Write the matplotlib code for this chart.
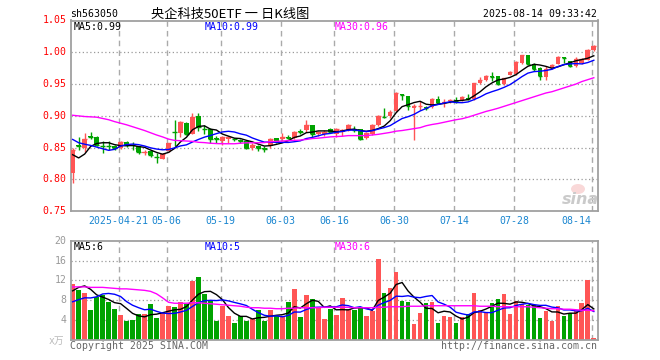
import numpy as np
import pandas as pd
import matplotlib
matplotlib.use('Agg')
import matplotlib.pyplot as plt
from matplotlib.patches import Ellipse

# ---------------- data ----------------
opens = [0.811, 0.855, 0.850, 0.868, 0.867, 0.853, 0.853, 0.852, 0.849, 0.859,
         0.855, 0.852, 0.842, 0.845, 0.836, 0.833, 0.845, 0.875, 0.873, 0.889,
         0.872, 0.900, 0.880, 0.879, 0.865, 0.860, 0.863, 0.864, 0.862, 0.860,
         0.849, 0.852, 0.849, 0.852, 0.865, 0.864, 0.867, 0.866, 0.876, 0.878,
         0.885, 0.871, 0.871, 0.880, 0.872, 0.875, 0.878, 0.879, 0.879, 0.865,
         0.871, 0.886, 0.899, 0.900, 0.907, 0.934, 0.931, 0.913, 0.915, 0.914,
         0.914, 0.927, 0.920, 0.923, 0.925, 0.925, 0.928, 0.926, 0.951, 0.957,
         0.962, 0.9625, 0.950, 0.965, 0.966, 0.983, 0.995, 0.982, 0.976, 0.9615,
         0.975, 0.982, 0.992, 0.986, 0.978, 0.983, 0.9885, 1.003]
closes = [0.846, 0.852, 0.864, 0.867, 0.854, 0.852, 0.852, 0.849, 0.859, 0.854,
          0.854, 0.843, 0.843, 0.838, 0.835, 0.840, 0.857, 0.874, 0.890, 0.871,
          0.899, 0.883, 0.879, 0.864, 0.864, 0.867, 0.867, 0.863, 0.861, 0.850,
          0.855, 0.849, 0.848, 0.864, 0.860, 0.867, 0.866, 0.874, 0.875, 0.886,
          0.872, 0.875, 0.874, 0.875, 0.879, 0.878, 0.886, 0.878, 0.864, 0.873,
          0.885, 0.900, 0.898, 0.906, 0.936, 0.933, 0.915, 0.915, 0.916, 0.913,
          0.927, 0.920, 0.922, 0.9255, 0.924, 0.930, 0.927, 0.951, 0.957, 0.9635,
          0.961, 0.950, 0.959, 0.969, 0.985, 0.995, 0.982, 0.9745, 0.9635, 0.9745,
          0.980, 0.993, 0.991, 0.979, 0.990, 0.990, 1.0036, 1.010]
highs = [0.850, 0.867, 0.873, 0.874, 0.868, 0.860, 0.861, 0.854, 0.860, 0.860,
         0.859, 0.853, 0.847, 0.846, 0.842, 0.841, 0.858, 0.893, 0.892, 0.890,
         0.904, 0.904, 0.886, 0.881, 0.868, 0.868, 0.868, 0.866, 0.864, 0.861,
         0.857, 0.854, 0.852, 0.866, 0.866, 0.873, 0.870, 0.876, 0.880, 0.894,
         0.886, 0.877, 0.878, 0.881, 0.881, 0.880, 0.888, 0.884, 0.880, 0.874,
         0.887, 0.902, 0.912, 0.910, 0.937, 0.935, 0.932, 0.918, 0.923, 0.916,
         0.928, 0.932, 0.926, 0.927, 0.929, 0.931, 0.934, 0.952, 0.961, 0.965,
         0.969, 0.963, 0.960, 0.971, 0.986, 0.996, 0.996, 0.983, 0.977, 0.978,
         0.981, 0.994, 0.992, 0.987, 0.993, 0.991, 1.005, 1.012]
lows = [0.795, 0.847, 0.843, 0.863, 0.853, 0.842, 0.847, 0.846, 0.848, 0.851,
        0.847, 0.840, 0.838, 0.835, 0.826, 0.832, 0.844, 0.852, 0.867, 0.870,
        0.871, 0.877, 0.872, 0.857, 0.858, 0.854, 0.857, 0.860, 0.858, 0.848,
        0.847, 0.845, 0.844, 0.850, 0.858, 0.860, 0.864, 0.863, 0.872, 0.875,
        0.867, 0.869, 0.868, 0.874, 0.867, 0.869, 0.876, 0.874, 0.862, 0.863,
        0.870, 0.884, 0.897, 0.897, 0.906, 0.925, 0.910, 0.862, 0.910, 0.910,
        0.912, 0.918, 0.914, 0.921, 0.921, 0.923, 0.925, 0.925, 0.950, 0.955,
        0.955, 0.948, 0.949, 0.964, 0.965, 0.982, 0.980, 0.970, 0.956, 0.956,
        0.974, 0.981, 0.983, 0.977, 0.977, 0.982, 0.988, 1.002]
volumes = [11.3, 10.1, 9.4, 6.0, 8.7, 9.0, 7.7, 6.2, 5.0, 3.9,
           4.0, 5.2, 5.2, 7.2, 4.4, 5.4, 6.8, 6.6, 7.7, 7.2,
           11.9, 12.7, 9.2, 8.0, 3.9, 6.8, 4.8, 3.5, 4.8, 3.9,
           4.2, 6.0, 3.9, 6.0, 4.8, 4.8, 7.7, 10.3, 4.6, 9.1,
           8.3, 6.6, 4.2, 6.2, 5.1, 8.5, 6.3, 6.1, 6.6, 4.9,
           5.9, 16.3, 9.5, 10.5, 13.7, 7.9, 7.7, 3.3, 5.5, 7.5,
           7.7, 3.4, 4.9, 4.7, 3.4, 4.7, 5.2, 9.5, 6.1, 5.7,
           7.5, 8.3, 9.3, 5.3, 7.9, 7.2, 7.0, 7.0, 4.5, 5.9,
           3.9, 6.9, 4.9, 5.4, 5.9, 7.5, 12.0, 0.5]
# estimated sessions just before the visible window (only for the short MAs)
prior_closes = [0.904, 0.887, 0.886, 0.880, 0.878, 0.8775, 0.8335, 0.807, 0.831]
prior_volumes = [5.8, 5.7, 6.3, 6.4, 3.3, 6.6, 7.9, 9.5, 14.2]
# 30-day averages
ma30_price = [0.901, 0.900, 0.899, 0.8985, 0.898, 0.896, 0.894, 0.891, 0.8885, 0.886,
              0.883, 0.880, 0.877, 0.8735, 0.870, 0.867, 0.8635, 0.8615, 0.861, 0.8605,
              0.860, 0.8585, 0.858, 0.857, 0.8565, 0.8562, 0.8562, 0.8562, 0.857, 0.8577,
              0.8577, 0.8578, 0.858, 0.8595, 0.860, 0.8605, 0.861, 0.8615, 0.862, 0.863,
              0.8644, 0.865, 0.866, 0.867, 0.8675, 0.868, 0.869, 0.869, 0.869, 0.869,
              0.870, 0.871, 0.8725, 0.874, 0.876, 0.877, 0.8785, 0.880, 0.8815, 0.8845,
              0.8865, 0.888, 0.890, 0.892, 0.894, 0.8955, 0.898, 0.901, 0.904, 0.907,
              0.9094, 0.912, 0.915, 0.918, 0.921, 0.924, 0.927, 0.930, 0.933, 0.936,
              0.938, 0.941, 0.944, 0.947, 0.950, 0.954, 0.957, 0.960]
ma30_volume = [10.7, 10.7, 10.7, 10.6, 10.6, 10.6, 10.5, 10.4, 10.3, 10.3,
               10.2, 10.1, 10.0, 9.8, 9.3, 8.5, 7.6, 7.4, 7.4, 7.4,
               7.5, 7.5, 7.4, 7.3, 7.2, 7.1, 7.0, 6.9, 6.8, 6.6,
               6.5, 6.5, 6.4, 6.4, 6.3, 6.3, 6.4, 6.4, 6.5, 6.5,
               6.5, 6.5, 6.6, 6.6, 6.6, 6.6, 6.6, 6.5, 6.5, 6.5,
               6.5, 6.6, 6.6, 6.7, 6.7, 6.7, 6.8, 6.8, 6.8, 6.9,
               6.9, 6.9, 6.9, 6.9, 6.9, 6.9, 6.9, 6.9, 6.8, 6.8,
               6.8, 6.7, 6.7, 6.7, 6.7, 6.7, 6.7, 6.6, 6.5, 6.4,
               6.3, 6.3, 6.2, 6.2, 6.1, 6.0, 6.0, 5.9]
tick_positions = [8, 16, 25, 35, 44, 54, 64, 74, 87]
tick_labels = ['2025-04-21', '05-06', '05-19', '06-03', '06-16', '06-30', '07-14', '07-28', '08-14']
price_ticks = [0.75, 0.80, 0.85, 0.90, 0.95, 1.00, 1.05]
volume_ticks = [4, 8, 12, 16, 20]
ma_labels_price = ['MA5:0.99', 'MA10:0.99', 'MA30:0.96']
ma_labels_volume = ['MA5:6', 'MA10:5', 'MA30:6']

# ---------------- styling ----------------
W, H = 660, 360
RED = '#ff5555'
GREEN = '#00a300'
FRAME = '#a0a0a0'
GRID = '#9a9a9a'
MONO = 'DejaVu Sans Mono'
plt.rcParams['font.family'] = ['DejaVu Sans Mono', 'Noto Sans CJK SC']

fig = plt.figure(figsize=(W / 100, H / 100), dpi=100, facecolor='white')

def fx(x):
    return x / W

def fy(y):
    return 1 - y / H

L, R = 70.7, 597.7
ax = fig.add_axes([fx(L), fy(211.3), (R - L) / W, (211.3 - 20.5) / H])
axv = fig.add_axes([fx(L), fy(340.0), (R - L) / W, (340.0 - 240.7) / H])

n = len(closes)
x = np.arange(n)
o = np.array(opens); c = np.array(closes); hi = np.array(highs); lo = np.array(lows)
vol = np.array(volumes)
up = c >= o
cols = np.where(up, RED, GREEN)

ma5 = pd.Series(prior_closes + closes).rolling(5).mean().values[len(prior_closes):]
ma10 = pd.Series(prior_closes + closes).rolling(10).mean().values[len(prior_closes):]
vma5 = pd.Series(prior_volumes + volumes).rolling(5).mean().values[len(prior_volumes):]
vma10 = pd.Series(prior_volumes + volumes).rolling(10).mean().values[len(prior_volumes):]

xlim = (-0.33, 87.65)
bw = 0.78

for a, ylim, yt in ((ax, (0.75, 1.05), price_ticks[1:-1]), (axv, (0, 20), volume_ticks[:-1])):
    a.set_xlim(*xlim)
    a.set_ylim(*ylim)
    a.set_xticks([]); a.set_yticks([])
    for s in a.spines.values():
        s.set_color(FRAME); s.set_linewidth(1.3)
    for t in yt:
        a.axhline(t, color=GRID, lw=0.9, ls=(0, (1, 2)), zorder=0)
    for p in tick_positions:
        a.axvline(p - 0.3, color='#aaaaaa', lw=1.0, ls=(0, (4, 3)), zorder=0)

# watermark (behind the marks)
fig.add_artist(Ellipse((578 / 100, (H - 189) / 100), 0.14, 0.10, transform=fig.dpi_scale_trans,
                       facecolor='#f7c8c8', edgecolor='none', alpha=0.7, zorder=0.5))
fig.text(fx(580), fy(199), 'sina', color='#cacaca', ha='center', va='center', fontsize=11.5,
         fontweight='bold', fontstyle='italic', family='DejaVu Sans', zorder=0.6)

# candles
ax.vlines(x, lo, hi, colors=cols, lw=1.0, zorder=2)
body_lo = np.minimum(o, c); body_h = np.abs(c - o)
ax.bar(x, body_h, bw, bottom=body_lo, color=cols, lw=0, zorder=3)
ax.hlines(c, x - bw / 2, x + bw / 2, colors=cols, lw=1.0, zorder=3)
ax.plot(x, ma5, color='black', lw=1.0, zorder=4)
ax.plot(x, ma10, color='#0000ff', lw=1.0, zorder=4)
ax.plot(x, ma30_price, color='#ff00ff', lw=1.0, zorder=4)
ax.patch.set_alpha(0)
fig.patch.set_facecolor('white')

# volume
axv.bar(x, vol, bw, color=cols, lw=0, zorder=2)
axv.plot(x, vma5, color='black', lw=1.0, zorder=4)
axv.plot(x, vma10, color='#0000ff', lw=1.0, zorder=4)
axv.plot(x, ma30_volume, color='#ff00ff', lw=1.0, zorder=4)

FS = 7.1
# price axis labels
for t in price_ticks:
    ypx = 211.3 - (t - 0.75) / 0.30 * (211.3 - 20.5)
    fig.text(fx(66.5), fy(ypx), f'{t:.2f}', color='red', ha='right', va='center',
             fontsize=FS, family=MONO)
for t in volume_ticks:
    ypx = 340.0 - t / 20 * (340.0 - 240.7)
    fig.text(fx(66.5), fy(ypx), f'{t}', color='#999999', ha='right', va='center',
             fontsize=FS, family=MONO)
fig.text(fx(64), fy(341), 'x万', color='#bbbbbb', ha='right', va='center',
         fontsize=7, family=['DejaVu Sans Mono', 'Noto Sans CJK SC'])

# date labels
for p, lab in zip(tick_positions, tick_labels):
    xpx = L + (p - 0.3 - xlim[0]) / (xlim[1] - xlim[0]) * (R - L)
    ha = 'right' if p == tick_positions[-1] else 'center'
    if ha == 'right':
        xpx -= 1
    fig.text(fx(xpx), fy(221.5), lab, color='#1a86d0', ha=ha, va='center',
             fontsize=FS, family=MONO)

# MA legends
for lab, xp, colr in zip(ma_labels_price, (74, 205, 335), ('black', '#0000ff', '#ff00ff')):
    fig.text(fx(xp), fy(27.5), lab, color=colr, ha='left', va='center', fontsize=FS, family=MONO)
for lab, xp, colr in zip(ma_labels_volume, (74, 205, 335), ('black', '#0000ff', '#ff00ff')):
    fig.text(fx(xp), fy(246.5), lab, color=colr, ha='left', va='center', fontsize=FS, family=MONO)

# header
fig.text(fx(70), fy(14), 'sh563050', color='black', ha='left', va='center', fontsize=FS, family=MONO)
fig.text(fx(230), fy(14.5), '央企科技50ETF 一 日K线图', color='black', ha='center', va='center',
         fontsize=9.5, family=['Noto Sans CJK SC', 'DejaVu Sans'])
fig.text(fx(597), fy(14), '2025-08-14 09:33:42', color='black', ha='right', va='center',
         fontsize=FS, family=MONO)

# footer
fig.text(fx(70), fy(346), 'Copyright 2025 SINA.COM', color='#666666', ha='left', va='center',
         fontsize=FS, family=MONO)
fig.text(fx(597), fy(346), 'http://finance.sina.com.cn', color='#666666', ha='right', va='center',
         fontsize=FS, family=MONO)

fig.savefig('out.png', dpi=100, facecolor='white')
